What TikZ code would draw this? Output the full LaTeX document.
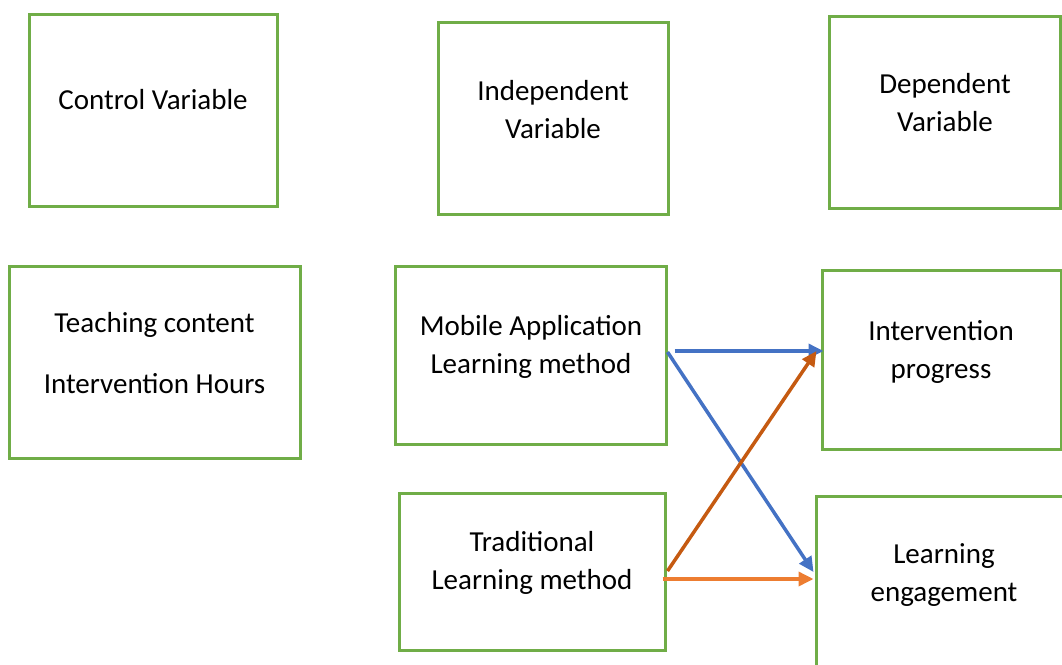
\documentclass[tikz,border=0pt]{standalone}
\usepackage{fontspec}
\setmainfont{Carlito}
\usetikzlibrary{arrows.meta}
\definecolor{boxgreen}{HTML}{70AD47}
\definecolor{arrblue}{HTML}{4472C4}
\definecolor{arrorange}{HTML}{ED7D31}
\definecolor{arrdark}{HTML}{C55A11}
\begin{document}
\begin{tikzpicture}[x=1pt,y=-1pt,
  box/.style={draw=boxgreen,line width=3pt,fill=none,inner sep=0pt},
  txt/.style={align=center,font=\fontsize{29}{38}\selectfont,inner sep=0pt},
  conn/.style={line width=3.5pt,-{Triangle[length=15pt,width=14pt]}}]
\useasboundingbox (0,0) rectangle (1062,664);
% boxes
\node[box,minimum width=248pt,minimum height=192pt] (ctrl) at (153,110) {};
\node[box,minimum width=230pt,minimum height=192pt] (indep) at (553,118) {};
\node[box,minimum width=231pt,minimum height=192pt] (dep) at (944.5,112) {};
\node[box,minimum width=291pt,minimum height=192pt] (teach) at (154.5,362) {};
\node[box,minimum width=271pt,minimum height=178pt] (mob) at (530.5,355) {};
\node[box,minimum width=239pt,minimum height=179pt] (int) at (941.5,359.5) {};
\node[box,minimum width=266pt,minimum height=157pt] (trad) at (532,571.5) {};
\node[box,minimum width=256pt,minimum height=184pt] (eng) at (944,588) {};
% texts
\node[txt] (ctrlT) at (153,100) {Control Variable};
\node[txt] (indepT) at (553,109.5) {Independent\\Variable};
\node[txt] (depT) at (945,103) {Dependent\\Variable};
\node[txt] (teachT) at (154.5,353) {Teaching content\\[23pt]Intervention Hours};
\node[txt] (mobT) at (531,347) {Mobile Application\\Learning method};
\node[txt] (intT) at (941,351.5) {Intervention\\progress};
\node[txt] (tradT) at (532,563) {Traditional\\Learning method};
\node[txt] (engT) at (944,575) {Learning\\engagement};
% connectors
\draw[conn,arrblue] ([shift={(7pt,4pt)}]mob.east) -- ([shift={(3pt,8.5pt)}]int.west);
\draw[conn,arrblue] ([shift={(0pt,3pt)}]mob.east) -- ([shift={(-1pt,16pt)}]eng.west);
\draw[conn,arrdark] ([shift={(1pt,0.5pt)}]trad.east) -- ([shift={(-4pt,8.5pt)}]int.west);
\draw[conn,arrorange] ([shift={(-4pt,-7.5pt)}]trad.east) -- ([shift={(-1pt,9pt)}]eng.west);
\end{tikzpicture}
\end{document}
